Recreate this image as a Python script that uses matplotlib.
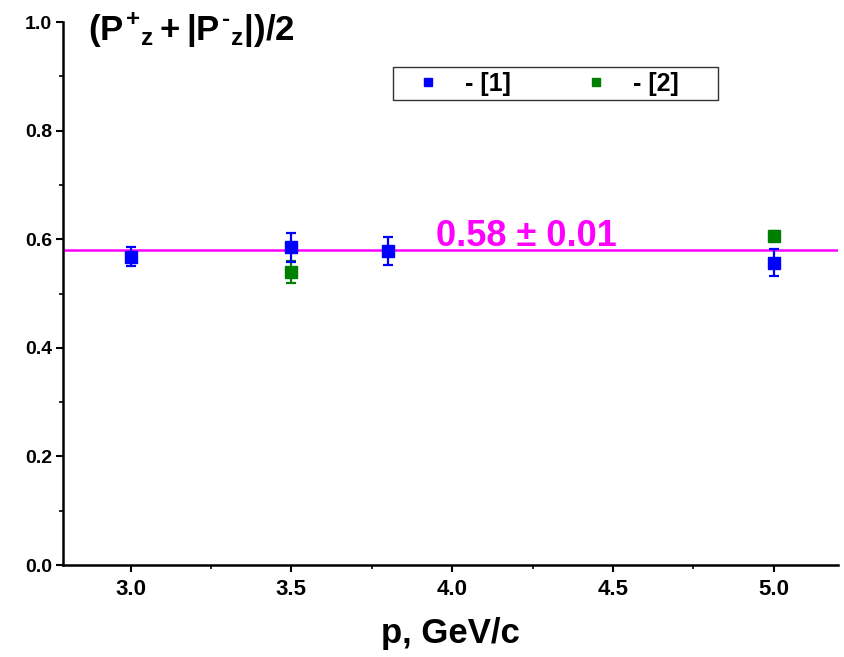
import matplotlib
matplotlib.use("Agg")
import matplotlib.pyplot as plt
from matplotlib.lines import Line2D
from matplotlib.patches import Rectangle
from matplotlib.ticker import MultipleLocator, FormatStrFormatter

plt.rcParams['font.family'] = ['Liberation Sans', 'DejaVu Sans']
plt.rcParams['font.weight'] = 'bold'
plt.rcParams['mathtext.fontset'] = 'custom'
plt.rcParams['mathtext.rm'] = 'Liberation Sans:bold'
plt.rcParams['mathtext.it'] = 'Liberation Sans:bold'
plt.rcParams['mathtext.bf'] = 'Liberation Sans:bold'

# series [1]
p1 = [3.0, 3.5, 3.8, 5.0]
pol1 = [0.568, 0.585, 0.578, 0.557]
err1 = [0.018, 0.027, 0.026, 0.025]

# series [2]
p2 = [3.5, 5.0]
pol2 = [0.540, 0.606]
err2 = [0.020, 0.010]

# fitted constant
fit_val = 0.58
fit_err = 0.01

fig = plt.figure(figsize=(8.45, 6.57), dpi=100)
ax = fig.add_axes([0.0746, 0.140, 0.9171, 0.8265])

ax.axhline(fit_val, color='#ff00ff', lw=1.8, zorder=1)

ax.errorbar(p1, pol1, yerr=err1, fmt='s', color='#0000ff', ms=8,
            elinewidth=1.6, capsize=3.5, capthick=1.6, zorder=3)
ax.errorbar(p2, pol2, yerr=err2, fmt='s', color='#008000', ms=8,
            elinewidth=1.6, capsize=3.5, capthick=1.6, zorder=2)

ax.text(3.95, fit_val + 0.008, f'{fit_val:.2f} \u00b1 {fit_err:.2f}',
        color='#ff00ff', fontsize=26, fontweight='bold', va='baseline')

ax.set_xlim(2.79, 5.2)
ax.set_ylim(0.0, 1.0)
ax.xaxis.set_major_locator(MultipleLocator(0.5))
ax.xaxis.set_minor_locator(MultipleLocator(0.25))
ax.yaxis.set_major_locator(MultipleLocator(0.2))
ax.yaxis.set_minor_locator(MultipleLocator(0.1))
ax.xaxis.set_major_formatter(FormatStrFormatter('%.1f'))
ax.yaxis.set_major_formatter(FormatStrFormatter('%.1f'))

for side in ['top', 'right']:
    ax.spines[side].set_visible(False)
for side in ['left', 'bottom']:
    ax.spines[side].set_linewidth(1.8)

ax.tick_params(which='major', direction='out', length=5, width=1.5)
ax.tick_params(which='minor', direction='out', length=3, width=1.2)
ax.tick_params(axis='x', which='major', pad=5, labelsize=16)
ax.tick_params(axis='y', which='major', pad=3, labelsize=14)
for lbl in ax.get_xticklabels() + ax.get_yticklabels():
    lbl.set_fontweight('bold')

ax.set_xlabel('p, GeV/c', fontsize=25, fontweight='bold', labelpad=12)

fig.text(88 / 845, 1 - 10 / 657, r'$(P^{+}{}_{z}+|P^{\text{-}}{}_{z}|)/2$',
         fontsize=25, va='top', ha='left')

# legend box drawn by hand so the entries can sit left inside it
ax.add_patch(Rectangle((0.426, 0.856), 0.419, 0.061, transform=ax.transAxes,
                       facecolor='white', edgecolor='#333333', lw=1.0,
                       zorder=4, clip_on=False))
handles = [Line2D([], [], ls='none', marker='s', color='#0000ff', ms=6),
           Line2D([], [], ls='none', marker='s', color='#008000', ms=6)]
leg = ax.legend(handles, ['- [1]', '- [2]'], ncol=2, loc='center left',
                bbox_to_anchor=(0.4484, 0.8865), frameon=False,
                prop={'weight': 'bold', 'size': 18}, borderpad=0,
                borderaxespad=0, handlelength=1.4, handletextpad=0.78,
                columnspacing=2.7)
leg.set_zorder(5)

fig.savefig('out.png', dpi=100)
